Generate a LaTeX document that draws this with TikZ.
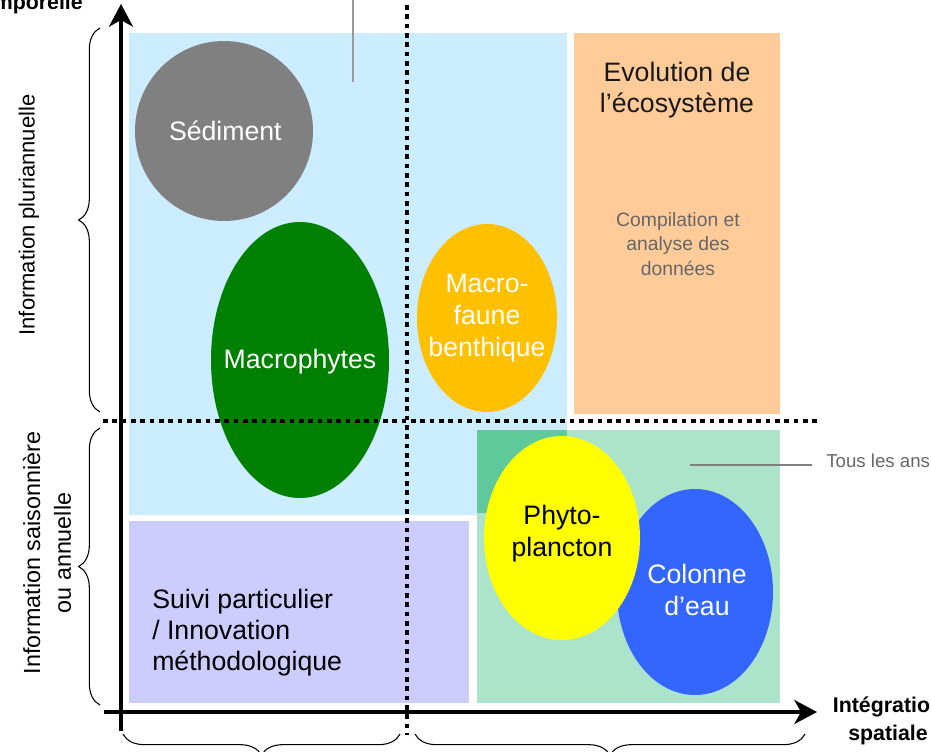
\documentclass[tikz,border=0pt]{standalone}
\usepackage{fontspec}
\setmainfont{Liberation Sans}
\usetikzlibrary{shapes.geometric,arrows.meta,decorations.pathreplacing}
\definecolor{cblue}{HTML}{CCECFF}
\definecolor{corange}{HTML}{FFCC99}
\definecolor{clav}{HTML}{CCCCFF}
\definecolor{cgreenl}{HTML}{ABE3CB}
\definecolor{cgreenm}{HTML}{60C99C}
\definecolor{cgray}{HTML}{808080}
\definecolor{cmacro}{HTML}{008000}
\definecolor{cfaune}{HTML}{FFC000}
\definecolor{cphyto}{HTML}{FFFF00}
\definecolor{ceau}{HTML}{3366FF}
\definecolor{ctxtgray}{HTML}{666666}
\tikzset{
  blob/.style={ellipse, draw=none, inner sep=0pt},
  blobtxt/.style={align=center, font=\fontsize{20}{24}\selectfont},
  dotline/.style={line width=3pt, dash pattern=on 3.4pt off 3.6pt, black},
  axisline/.style={line width=2.6pt, -{Stealth[length=17pt,width=18pt,inset=5pt]}},
  bracepath/.style={thick, decorate, decoration={brace, amplitude=16pt}},
  labeltxt/.style={font=\fontsize{16.5}{20}\selectfont, align=center},
  boldtxt/.style={font=\bfseries\fontsize{16}{21}\selectfont, align=center},
  calltxt/.style={font=\fontsize{14}{17}\selectfont, text=ctxtgray}
}
\begin{document}
\begin{tikzpicture}[x=0.75pt,y=-0.75pt]
\useasboundingbox (0,0) rectangle (931,752);
% rectangles
\fill[cblue] (129,33) rectangle (567,515);
\fill[corange] (574,33) rectangle (780,414);
\fill[clav] (129,521) rectangle (469,703);
\fill[cgreenl] (477,430) rectangle (780,703);
\fill[cgreenm] (477,430) rectangle (567,513);
% callout lines
\coordinate (c1a) at (353,0);
\coordinate (c1b) at (353,82);
\draw[cgray!80, line width=0.8pt] (c1a) -- (c1b);
% ellipses
\node[blob, fill=cgray, minimum width=133.5pt, minimum height=135pt,
  label={[blobtxt, text=white, xshift=1pt]center:Sédiment}] (sed) at (224,131) {};
\node[blob, fill=cmacro, minimum width=133.5pt, minimum height=207pt,
  label={[blobtxt, text=white, yshift=-1.5pt]center:Macrophytes}] (mac) at (300,360) {};
\node[blob, fill=cfaune, minimum width=105pt, minimum height=141pt,
  label={[blobtxt, text=white]center:Macro-\\faune\\benthique}] (fau) at (487,318) {};
\node[blob, fill=ceau, minimum width=117pt, minimum height=154.5pt,
  label={[blobtxt, text=white, xshift=1.5pt, yshift=1.5pt]center:Colonne\\d’eau}] (eau) at (695,592) {};
\node[blob, fill=cphyto, minimum width=117pt, minimum height=153pt,
  label={[blobtxt, text=black, yshift=3pt]center:Phyto-\\plancton}] (phy) at (562,538) {};
% texts in rectangles
\node[font=\fontsize{20}{23.5}\selectfont, align=center, text=black!90] (evo) at (677,90) {Evolution de\\l’écosystème};
\node[font=\fontsize{14.5}{18.4}\selectfont, align=center, text=ctxtgray] (comp) at (678,244) {Compilation et\\analyse des\\données};
\node[font=\fontsize{20}{23.3}\selectfont, align=left, anchor=west, inner sep=0pt] (suivi) at (152,633) {Suivi particulier\\/ Innovation\\méthodologique};
% callout right
\coordinate (c2a) at (690,465);
\coordinate (c2b) at (812,465);
\draw[cgray, line width=0.8pt] (c2a) -- (c2b);
\node[calltxt, anchor=west, inner sep=0pt] (tous) at (826,461) {Tous les ans};
% dotted lines
\coordinate (dv1) at (407,5);
\coordinate (dv2) at (407,735);
\coordinate (dh1) at (103,421);
\coordinate (dh2) at (817,421);
\draw[dotline] (dv1) -- (dv2);
\draw[dotline] (dh1) -- (dh2);
% axes
\coordinate (ya) at (121,731);
\coordinate (yb) at (121,4);
\coordinate (xa) at (104,712);
\coordinate (xb) at (817,712);
\draw[axisline] (ya) -- (yb);
\draw[axisline] (xa) -- (xb);
% braces
\coordinate (b1a) at (100,412);
\coordinate (b1b) at (100,28);
\coordinate (b2a) at (100,705);
\coordinate (b2b) at (100,428);
\coordinate (b3a) at (400,734);
\coordinate (b3b) at (123,734);
\coordinate (b4a) at (805,734);
\coordinate (b4b) at (415,734);
\draw[bracepath] (b1a) -- (b1b);
\draw[bracepath] (b2a) -- (b2b);
\draw[bracepath] (b3a) -- (b3b);
\draw[bracepath] (b4a) -- (b4b);
% axis labels
\node[labeltxt, rotate=90] (lab1) at (29,215) {Information pluriannuelle};
\node[font=\fontsize{17.5}{23}\selectfont, align=center, rotate=90] (lab2) at (47,553) {Information saisonnière\\ou annuelle};
\node[boldtxt, anchor=east, inner sep=0pt] (temp) at (83,4) {temporelle};
\node[boldtxt] (spat) at (888,721) {Intégration\\spatiale};
\end{tikzpicture}
\end{document}
